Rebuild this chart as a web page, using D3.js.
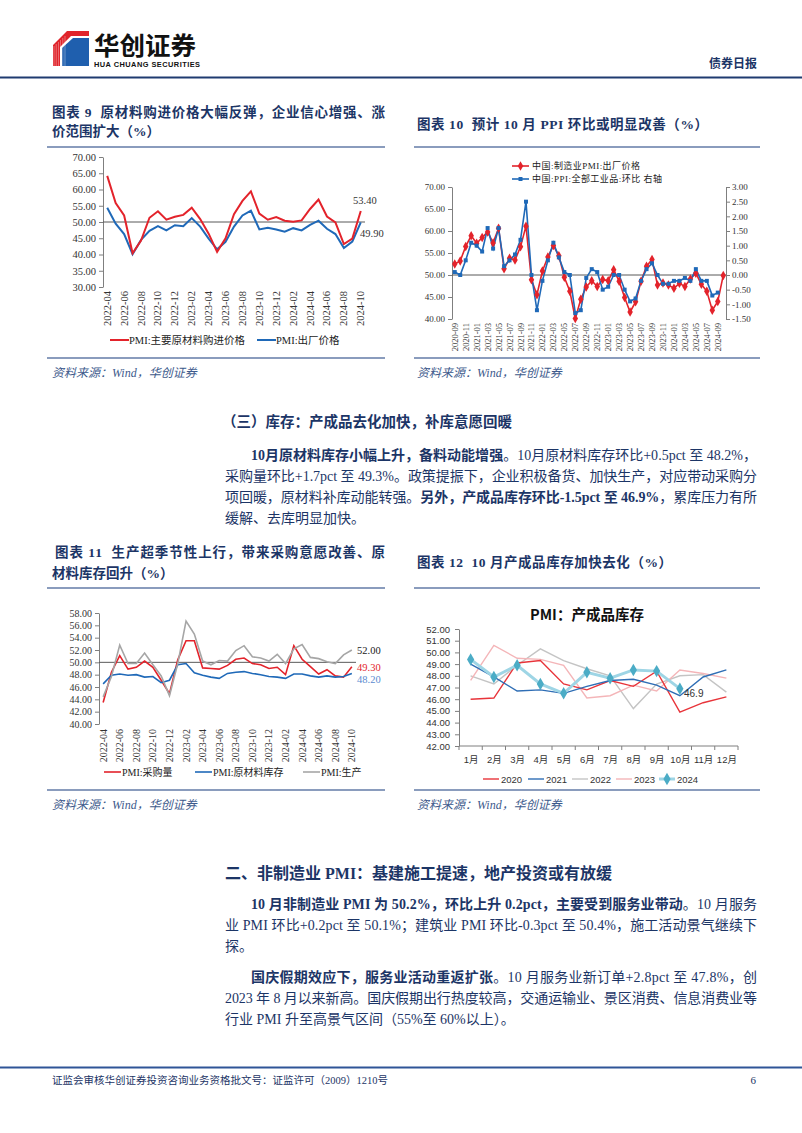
<!DOCTYPE html>
<html><head><meta charset="utf-8">
<script src="https://cdn.jsdelivr.net/npm/d3@7"></script>
<style>body{margin:0;background:#fff;}svg{display:block;}text{white-space:pre;}</style>
</head><body>
<svg id="page" width="802" height="1133"></svg>
<script>
// ---------------- DATA ----------------
const months9 = ["2022-04","2022-05","2022-06","2022-07","2022-08","2022-09","2022-10","2022-11","2022-12",
"2023-01","2023-02","2023-03","2023-04","2023-05","2023-06","2023-07","2023-08","2023-09","2023-10","2023-11","2023-12",
"2024-01","2024-02","2024-03","2024-04","2024-05","2024-06","2024-07","2024-08","2024-09","2024-10"];
const purchasePrice = [64.2,55.8,52.0,40.4,44.3,51.3,53.3,50.7,51.6,52.2,54.4,50.9,46.4,40.8,45.0,52.4,56.5,59.4,52.6,50.7,51.5,50.4,50.1,50.5,54.0,56.9,51.7,49.9,43.2,44.9,53.4];
const outputPrice = [54.4,49.5,46.3,40.1,44.5,47.3,48.7,47.4,49.0,48.7,51.2,48.6,44.9,41.6,43.9,48.6,52.0,53.5,47.7,48.2,47.7,47.0,48.1,47.4,49.1,50.4,47.9,46.3,42.0,44.0,49.9];

const months10 = ["2020-09","2020-10","2020-11","2020-12",
"2021-01","2021-02","2021-03","2021-04","2021-05","2021-06","2021-07","2021-08","2021-09","2021-10","2021-11","2021-12",
"2022-01","2022-02","2022-03","2022-04","2022-05","2022-06","2022-07","2022-08","2022-09","2022-10","2022-11","2022-12",
"2023-01","2023-02","2023-03","2023-04","2023-05","2023-06","2023-07","2023-08","2023-09","2023-10","2023-11","2023-12",
"2024-01","2024-02","2024-03","2024-04","2024-05","2024-06","2024-07","2024-08","2024-09","2024-10"];
const pmiOutput10 = [52.5,53.2,56.5,58.9,57.2,58.5,59.8,57.3,60.6,51.4,53.8,53.4,56.4,61.1,48.9,45.5,
50.9,54.1,56.7,54.4,49.5,46.3,40.1,44.5,47.3,48.7,47.4,49.0,
48.7,51.2,48.6,44.9,41.6,43.9,48.6,52.0,53.5,47.7,48.2,47.7,
47.0,48.1,47.4,49.1,50.4,47.9,46.3,42.0,44.0,49.9];
const ppiMom10 = [0.1,0.0,0.5,1.1,1.0,0.8,1.6,0.9,1.6,0.3,0.5,0.7,1.2,2.5,0.0,-1.2,
-0.2,0.5,1.1,0.6,0.1,0.0,-1.3,-1.2,-0.1,0.2,0.1,-0.5,
-0.4,0.0,0.0,-0.5,-0.9,-0.8,-0.2,0.2,0.4,0.0,-0.3,-0.3,
-0.2,-0.2,-0.1,-0.2,0.2,-0.2,-0.2,-0.7,-0.6];

const purchaseQty = [43.5,48.4,51.1,48.9,49.2,50.2,49.2,47.1,44.9,50.4,53.5,53.5,49.1,49.0,48.9,49.5,50.5,50.7,49.8,49.6,49.0,49.2,48.0,52.7,50.5,49.3,48.1,48.8,47.8,47.6,49.3];
const rawInventory = [46.5,47.9,48.1,47.9,48.0,47.6,47.7,46.7,47.1,49.6,49.8,48.3,47.9,47.6,47.4,48.2,48.4,48.5,48.2,48.0,47.7,47.6,47.4,48.1,48.1,47.8,47.6,47.8,47.6,47.7,48.2];
const production = [44.4,47.7,52.8,49.8,49.8,51.5,49.6,47.8,44.6,49.8,56.7,54.6,50.2,49.6,50.3,50.2,51.9,52.7,50.9,50.7,50.2,51.3,49.8,52.2,52.9,50.8,50.6,50.1,49.8,51.2,52.0];

const months12 = ["1月","2月","3月","4月","5月","6月","7月","8月","9月","10月","11月","12月"];
const years12 = ["2020","2021","2022","2023","2024"];
const inv2020 = [46.0,46.1,49.1,49.3,47.3,46.8,47.6,47.1,48.4,44.9,45.7,46.2];
const inv2021 = [49.0,47.9,46.7,46.8,46.5,47.1,47.6,47.7,47.2,46.3,47.9,48.5];
const inv2022 = [48.0,47.3,48.9,50.3,49.3,48.6,48.0,45.2,47.3,48.0,48.1,46.6];
const inv2023 = [47.6,50.6,49.5,49.4,48.9,46.1,46.3,47.2,46.7,48.5,48.2,47.8];
const inv2024 = [49.4,47.9,48.9,47.3,46.5,48.3,47.8,48.5,48.4,46.9];

// ---------------- STYLE ----------------
const FS = "'Liberation Serif','Noto Sans CJK SC',serif";
const FSANS = "'Liberation Sans','Noto Sans CJK SC',sans-serif";
const CJK = "'Noto Sans CJK SC',sans-serif";
const NAVY = "#1c3566";
const RED = "#e3232b", BLUE = "#1f69b8", GREY = "#a6a6a6";
const svg = d3.select("#page");

function justify(t, target){
  const n = t.text().length;
  const w = t.node().getComputedTextLength();
  if (n > 1) t.attr("letter-spacing", (target - w) / (n - 1));
}
function richLine(x, y, parts, target, size, family){
  const t = svg.append("text").attr("x", x).attr("y", y)
    .attr("font-family", family || FS).attr("font-size", size || 14)
    .attr("fill", NAVY).attr("dominant-baseline", "central");
  parts.forEach(p => t.append("tspan").text(p[0]).attr("font-weight", p[1] ? "bold" : "normal"));
  if (target) justify(t, target);
  return t;
}
function hline(x1, x2, y, color, w){
  svg.append("line").attr("x1", x1).attr("x2", x2).attr("y1", y).attr("y2", y)
    .attr("stroke", color).attr("stroke-width", w);
}
function styleAxis(g, size, family){
  g.select(".domain").attr("stroke", "#7f7f7f");
  g.selectAll(".tick line").attr("stroke", "#7f7f7f");
  g.selectAll(".tick text").attr("font-family", family).attr("font-size", size).attr("fill", "#333");
}

// ---------------- HEADER ----------------
const logo = svg.append("g");
logo.append("polygon").attr("points", "53,45 67,31 89,31 89,36 71,36 60,47 60,66 53,66").attr("fill", "#e0242b");
logo.append("polygon").attr("points", "62,48 73,38 89,38 89,66 62,66").attr("fill", "#1f5fae");
for (let i = 0; i < 6; i++) {
  logo.append("line").attr("x1", 54 + i*2.2).attr("y1", 66).attr("x2", 54 + i*2.2).attr("y2", 46 - i*2)
    .attr("stroke", "#fff").attr("stroke-width", 0.5).attr("opacity", 0.7);
}
svg.append("text").attr("x", 94).attr("y", 55).attr("font-family", CJK).attr("font-weight", "bold")
  .attr("font-size", 25.5).attr("fill", "#111").text("华创证券");
const hc = svg.append("text").attr("x", 94).attr("y", 67).attr("font-family", FSANS).attr("font-weight", "bold")
  .attr("font-size", 7.4).attr("fill", "#111").text("HUA CHUANG SECURITIES");
justify(hc, 106);
svg.append("text").attr("x", 757).attr("y", 62).attr("text-anchor", "end").attr("dominant-baseline", "central")
  .attr("font-family", CJK).attr("font-weight", "bold").attr("font-size", 12).attr("fill", NAVY).text("债券日报");
hline(0, 802, 77.5, "#1f3b70", 2);

// ---------------- TITLES ----------------
richLine(52, 112, [["图表 9  原材料购进价格大幅反弹，企业信心增强、涨", 1]], 333, 13.5);
richLine(52, 131, [["价范围扩大（%）", 1]], null, 13.5);
richLine(417, 124, [["图表 10  预计 10 月 PPI 环比或明显改善（%）", 1]], 291, 13.5);
hline(47, 385, 147, "#8a9cbd", 2); hline(414, 760, 147, "#8a9cbd", 2);
hline(47, 385, 358, "#8a9cbd", 2); hline(414, 760, 358, "#8a9cbd", 2);
[52, 417].forEach(x => svg.append("text").attr("x", x).attr("y", 373).attr("dominant-baseline", "central")
  .attr("font-family", FS).attr("font-style", "italic").attr("font-size", 12).attr("fill", "#3d5a8c").text("资料来源：Wind，华创证券"));

richLine(222, 422, [["（三）库存：产成品去化加快，补库意愿回暖", 1]], null, 14.5);
richLine(251, 455, [["10月原材料库存小幅上升，备料动能增强", 1], ["。10月原材料库存环比+0.5pct 至 48.2%，", 0]], 506, 14);
richLine(225, 476, [["采购量环比+1.7pct 至 49.3%。政策提振下，企业积极备货、加快生产，对应带动采购分", 0]], 532, 14);
richLine(225, 497, [["项回暖，原材料补库动能转强。", 0], ["另外，产成品库存环比-1.5pct 至 46.9%", 1], ["，累库压力有所", 0]], 532, 14);
richLine(225, 518, [["缓解、去库明显加快。", 0]], null, 14);

richLine(55, 552, [["图表 11  生产超季节性上行，带来采购意愿改善、原", 1]], 330, 13.5);
richLine(52, 573, [["材料库存回升（%）", 1]], null, 13.5);
richLine(417, 562, [["图表 12  10 月产成品库存加快去化（%）", 1]], 255, 13.5);
hline(47, 385, 588, "#8a9cbd", 2); hline(414, 760, 588, "#8a9cbd", 2);
hline(47, 385, 790, "#8a9cbd", 2); hline(414, 760, 790, "#8a9cbd", 2);
[52, 417].forEach(x => svg.append("text").attr("x", x).attr("y", 805).attr("dominant-baseline", "central")
  .attr("font-family", FS).attr("font-style", "italic").attr("font-size", 12).attr("fill", "#3d5a8c").text("资料来源：Wind，华创证券"));

richLine(225, 873, [["二、非制造业 PMI：基建施工提速，地产投资或有放缓", 1]], null, 16);
richLine(251, 904, [["10 月非制造业 PMI 为 50.2%，环比上升 0.2pct，主要受到服务业带动", 1], ["。10 月服务", 0]], 506, 14);
richLine(225, 925, [["业 PMI 环比+0.2pct 至 50.1%；建筑业 PMI 环比-0.3pct 至 50.4%，施工活动景气继续下", 0]], 532, 14);
richLine(225, 946, [["探。", 0]], null, 14);
richLine(251, 977, [["国庆假期效应下，服务业活动重返扩张", 1], ["。10 月服务业新订单+2.8pct 至 47.8%，创", 0]], 506, 14);
richLine(225, 998, [["2023 年 8 月以来新高。国庆假期出行热度较高，交通运输业、景区消费、信息消费业等", 0]], 532, 14);
richLine(225, 1019, [["行业 PMI 升至高景气区间（55%至 60%以上）。", 0]], null, 14);

hline(0, 802, 1067.5, "#2f5597", 2);
svg.append("text").attr("x", 52).attr("y", 1080).attr("dominant-baseline", "central").attr("font-family", FS)
  .attr("font-size", 10.5).attr("fill", NAVY).text("证监会审核华创证券投资咨询业务资格批文号：证监许可（2009）1210号");
svg.append("text").attr("x", 756).attr("y", 1080).attr("text-anchor", "end").attr("dominant-baseline", "central")
  .attr("font-family", FS).attr("font-size", 11).attr("fill", NAVY).text("6");

// ---------------- CHART 9 ----------------
(function(){
  const x = d3.scalePoint().domain(months9).range([103, 365]).padding(0.5);
  const y = d3.scaleLinear().domain([30, 70]).range([287, 157]);
  const g = svg.append("g");
  const ax = g.append("g").attr("transform", "translate(103,0)")
    .call(d3.axisLeft(y).tickValues(d3.range(30, 71, 5)).tickFormat(d3.format(".2f")).tickSize(4).tickSizeOuter(0).tickPadding(3));
  styleAxis(ax, 10.5, FS);
  g.append("line").attr("x1", 103).attr("x2", 365).attr("y1", y(50)).attr("y2", y(50)).attr("stroke", "#595959");
  months9.forEach((m, i) => { if (i % 2 === 0)
    g.append("text").attr("transform", `translate(${x(m)},291) rotate(-90)`).attr("text-anchor", "end")
      .attr("dominant-baseline", "central").attr("font-family", FS).attr("font-size", 10.5).attr("fill", "#333").text(m); });
  const line = d3.line().x((d, i) => x(months9[i])).y(d => y(d));
  g.append("path").datum(outputPrice).attr("d", line).attr("fill", "none").attr("stroke", BLUE).attr("stroke-width", 2);
  g.append("path").datum(purchasePrice).attr("d", line).attr("fill", "none").attr("stroke", RED).attr("stroke-width", 2);
  g.append("text").attr("x", 353).attr("y", 200).attr("dominant-baseline", "central").attr("font-family", FS)
    .attr("font-size", 10.5).attr("fill", "#333").text(d3.format(".2f")(purchasePrice[30]));
  g.append("text").attr("x", 360).attr("y", 233).attr("dominant-baseline", "central").attr("font-family", FS)
    .attr("font-size", 10.5).attr("fill", "#333").text(d3.format(".2f")(outputPrice[30]));
  const leg = [["PMI:主要原材料购进价格", RED, 110], ["PMI:出厂价格", BLUE, 257]];
  leg.forEach(l => {
    g.append("line").attr("x1", l[2]).attr("x2", l[2] + 19).attr("y1", 340).attr("y2", 340).attr("stroke", l[1]).attr("stroke-width", 2);
    g.append("text").attr("x", l[2] + 19).attr("y", 340).attr("dominant-baseline", "central").attr("font-family", FS)
      .attr("font-size", 10.5).attr("fill", "#222").text(l[0]);
  });
})();

// ---------------- CHART 10 ----------------
(function(){
  const x = d3.scalePoint().domain(months10).range([452, 726]).padding(0.5);
  const yL = d3.scaleLinear().domain([40, 70]).range([319, 187]);
  const yR = d3.scaleLinear().domain([-1.5, 3]).range([319, 187]);
  const g = svg.append("g");
  const axL = g.append("g").attr("transform", "translate(452,0)")
    .call(d3.axisLeft(yL).tickValues(d3.range(40, 71, 5)).tickFormat(d3.format(".2f")).tickSize(4).tickSizeOuter(0).tickPadding(3));
  styleAxis(axL, 9, FS);
  const axR = g.append("g").attr("transform", "translate(726,0)")
    .call(d3.axisRight(yR).tickValues(d3.range(-1.5, 3.01, 0.5)).tickFormat(d3.format(".2f")).tickSize(4).tickSizeOuter(0).tickPadding(2));
  styleAxis(axR, 9, FS);
  axR.selectAll(".tick text").text(d => d3.format(".2f")(d).replace("−", "-"));
  g.append("line").attr("x1", 452).attr("x2", 726).attr("y1", yL(50)).attr("y2", yL(50)).attr("stroke", "#595959");
  months10.forEach((m, i) => { if (i % 2 === 0 && i < 49)
    g.append("text").attr("transform", `translate(${x(m)},323) rotate(-90)`).attr("text-anchor", "end")
      .attr("dominant-baseline", "central").attr("font-family", FS).attr("font-size", 8.5).attr("fill", "#333").text(m); });
  const lineL = d3.line().x((d, i) => x(months10[i])).y(d => yL(d));
  const lineR = d3.line().x((d, i) => x(months10[i])).y(d => yR(d));
  g.append("path").datum(pmiOutput10).attr("d", lineL).attr("fill", "none").attr("stroke", RED).attr("stroke-width", 1.6);
  g.append("path").datum(ppiMom10).attr("d", lineR).attr("fill", "none").attr("stroke", BLUE).attr("stroke-width", 1.6);
  const dia = d3.symbol(d3.symbolDiamond, 26), sq = d3.symbol(d3.symbolSquare, 16);
  pmiOutput10.forEach((d, i) => g.append("path").attr("d", dia).attr("transform", `translate(${x(months10[i])},${yL(d)})`).attr("fill", RED));
  ppiMom10.forEach((d, i) => g.append("path").attr("d", sq).attr("transform", `translate(${x(months10[i])},${yR(d)})`).attr("fill", BLUE));
  const leg = [["中国:制造业PMI:出厂价格", RED, dia, 166, 108], ["中国:PPI:全部工业品:环比 右轴", BLUE, sq, 179, 130]];
  leg.forEach(l => {
    g.append("line").attr("x1", 512).attr("x2", 529).attr("y1", l[3]).attr("y2", l[3]).attr("stroke", l[1]).attr("stroke-width", 1.6);
    g.append("path").attr("d", l[2]).attr("transform", `translate(520.5,${l[3]})`).attr("fill", l[1]);
    const t = g.append("text").attr("x", 532).attr("y", l[3]).attr("dominant-baseline", "central").attr("font-family", FS)
      .attr("font-size", 9).attr("fill", "#222").text(l[0]);
    justify(t, l[4]);
  });
})();

// ---------------- CHART 11 ----------------
(function(){
  const x = d3.scalePoint().domain(months9).range([99, 356]).padding(0.5);
  const y = d3.scaleLinear().domain([40, 58]).range([724, 613]);
  const g = svg.append("g");
  const ax = g.append("g").attr("transform", "translate(99,0)")
    .call(d3.axisLeft(y).tickValues(d3.range(40, 59, 2)).tickFormat(d3.format(".2f")).tickSize(4).tickSizeOuter(0).tickPadding(3));
  styleAxis(ax, 10, FS);
  g.append("line").attr("x1", 99).attr("x2", 356).attr("y1", y(50)).attr("y2", y(50)).attr("stroke", "#595959");
  months9.forEach((m, i) => { if (i % 2 === 0)
    g.append("text").attr("transform", `translate(${x(m)},729) rotate(-90)`).attr("text-anchor", "end")
      .attr("dominant-baseline", "central").attr("font-family", FS).attr("font-size", 10).attr("fill", "#333").text(m); });
  const line = d3.line().x((d, i) => x(months9[i])).y(d => y(d));
  g.append("path").datum(purchaseQty).attr("d", line).attr("fill", "none").attr("stroke", RED).attr("stroke-width", 1.6);
  g.append("path").datum(rawInventory).attr("d", line).attr("fill", "none").attr("stroke", BLUE).attr("stroke-width", 1.6);
  g.append("path").datum(production).attr("d", line).attr("fill", "none").attr("stroke", GREY).attr("stroke-width", 1.6);
  [[production[30], "#222", 650], [purchaseQty[30], RED, 667], [rawInventory[30], "#5b8bd0", 679]].forEach(a =>
    g.append("text").attr("x", 357).attr("y", a[2]).attr("dominant-baseline", "central").attr("font-family", FS)
      .attr("font-size", 10.5).attr("fill", a[1]).text(d3.format(".2f")(a[0])));
  const leg = [["PMI:采购量", RED, 104], ["PMI:原材料库存", BLUE, 195], ["PMI:生产", GREY, 303]];
  leg.forEach(l => {
    g.append("line").attr("x1", l[2]).attr("x2", l[2] + 17).attr("y1", 772).attr("y2", 772).attr("stroke", l[1]).attr("stroke-width", 1.6);
    g.append("text").attr("x", l[2] + 18).attr("y", 772).attr("dominant-baseline", "central").attr("font-family", FS)
      .attr("font-size", 10).attr("fill", "#222").text(l[0]);
  });
})();

// ---------------- CHART 12 ----------------
(function(){
  const x = d3.scalePoint().domain(months12).range([459, 738]).padding(0.5);
  const xb = d3.scaleBand().domain(months12).range([459, 738]);
  const y = d3.scaleLinear().domain([42, 52]).range([746, 629]);
  const g = svg.append("g");
  g.append("text").attr("x", 587).attr("y", 613).attr("text-anchor", "middle").attr("dominant-baseline", "central")
    .attr("font-family", CJK).attr("font-weight", "bold").attr("font-size", 14.5).attr("fill", "#111").text("PMI：产成品库存");
  const ax = g.append("g").attr("transform", "translate(459,0)")
    .call(d3.axisLeft(y).tickValues(d3.range(42, 52.01, 1)).tickFormat(d3.format(".2f")).tickSize(4).tickSizeOuter(0).tickPadding(5));
  styleAxis(ax, 9.5, FSANS);
  const axB = g.append("g").attr("transform", "translate(0,746)")
    .call(d3.axisBottom(x).tickSize(0).tickPadding(10));
  styleAxis(axB, 9.5, FSANS);
  axB.select(".domain").attr("d", "M459,0H738");
  months12.concat(["end"]).forEach((m, i) => {
    const xx = 459 + i * xb.step();
    g.append("line").attr("x1", xx).attr("x2", xx).attr("y1", 746).attr("y2", 750).attr("stroke", "#7f7f7f");
  });
  const series = [[inv2022, "#c4c4c4", 1.4], [inv2023, "#f4b5b8", 1.4], [inv2020, "#e8343a", 1.4], [inv2021, "#2f6eb5", 1.4]];
  const line = d3.line().x((d, i) => x(months12[i])).y(d => y(d));
  series.forEach(s => g.append("path").datum(s[0]).attr("d", line).attr("fill", "none").attr("stroke", s[1]).attr("stroke-width", s[2]));
  g.append("path").datum(inv2024).attr("d", line).attr("fill", "none").attr("stroke", "#9ed5e5").attr("stroke-width", 3);
  const dia = d3.symbol(d3.symbolDiamond, 45);
  inv2024.forEach((d, i) => g.append("path").attr("d", dia).attr("transform", `translate(${x(months12[i])},${y(d)})`).attr("fill", "#4bacc6"));
  g.append("text").attr("x", 684).attr("y", 693).attr("dominant-baseline", "central").attr("font-family", FSANS)
    .attr("font-size", 10).attr("fill", "#333").text(inv2024[9]);
  const legC = ["#e8343a", "#2f6eb5", "#c4c4c4", "#f4b5b8", "#9ed5e5"];
  const legX = [483, 528, 572, 616, 659];
  years12.forEach((yr, i) => {
    g.append("line").attr("x1", legX[i]).attr("x2", legX[i] + 16).attr("y1", 779).attr("y2", 779)
      .attr("stroke", legC[i]).attr("stroke-width", i === 4 ? 3 : 1.4);
    if (i === 4) g.append("path").attr("d", dia).attr("transform", `translate(${legX[i] + 8},779)`).attr("fill", "#4bacc6");
    g.append("text").attr("x", legX[i] + 18).attr("y", 779).attr("dominant-baseline", "central").attr("font-family", FSANS)
      .attr("font-size", 9.5).attr("fill", "#333").text(yr);
  });
})();
</script>
</body></html>
